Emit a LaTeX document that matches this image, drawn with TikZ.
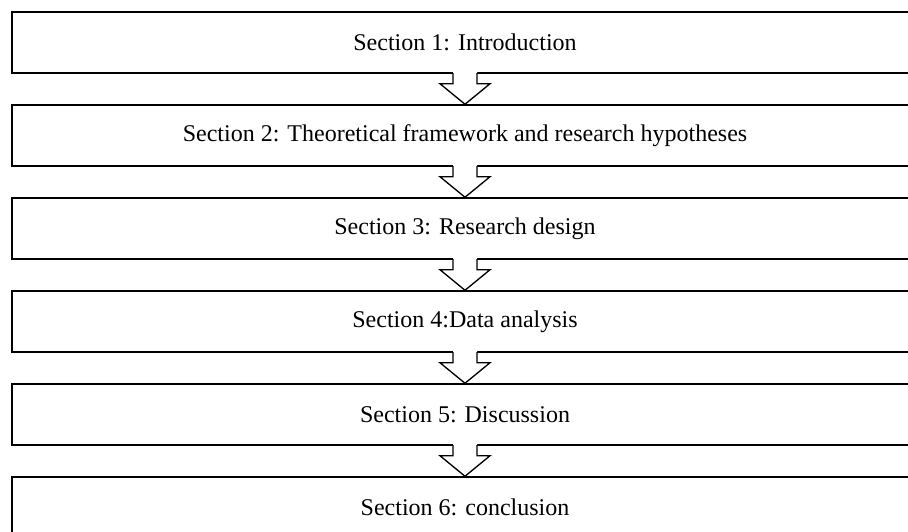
\documentclass[tikz,border=0pt]{standalone}
\usepackage{fontspec}
\setmainfont{Liberation Serif}
\usetikzlibrary{positioning,calc}

\tikzset{
  secbox/.style={draw, line width=1.1pt, minimum width=679.5pt,
    minimum height=45.75pt, font=\fontsize{18}{21}\selectfont},
  flowarrow/.style={line width=1pt, line join=miter}
}

\begin{document}
\begin{tikzpicture}[x=0.75pt, y=-0.75pt, node distance=22.9pt]

      \useasboundingbox (0,0) rectangle (908,532);

      % the six sections
      \node [secbox] (s1) at (465,42.5) {Section 1: Introduction};
      \node [secbox, below=of s1] (s2)
      {Section 2: Theoretical framework and research hypotheses};
      \node [secbox, below=of s2] (s3) {Section 3: Research design};
      \node [secbox, below=of s3] (s4) {Section 4:Data analysis};
      \node [secbox, below=of s4] (s5) {Section 5: Discussion};
      \node [secbox, below=of s5] (s6) {Section 6: conclusion};

      % block arrows between the sections
      \foreach \a/\b in {s1/s2, s2/s3, s3/s4, s4/s5, s5/s6} {
        \fill [white] ($(\a.south)+(-9pt,1.5pt)$) -- ($(\a.south)+(-9pt,-7.5pt)$)
        -- ($(\a.south)+(-18.75pt,-7.5pt)$) -- (\b.north)
        -- ($(\a.south)+(18.75pt,-7.5pt)$) -- ($(\a.south)+(9pt,-7.5pt)$)
        -- ($(\a.south)+(9pt,1.5pt)$) -- cycle;
        \draw [flowarrow] ($(\a.south)+(-9pt,0.55pt)$) -- ($(\a.south)+(-9pt,-7.5pt)$)
        -- ($(\a.south)+(-18.75pt,-7.5pt)$) -- (\b.north)
        -- ($(\a.south)+(18.75pt,-7.5pt)$) -- ($(\a.south)+(9pt,-7.5pt)$)
        -- ($(\a.south)+(9pt,0.55pt)$);
      }
    \end{tikzpicture}
\end{document}
